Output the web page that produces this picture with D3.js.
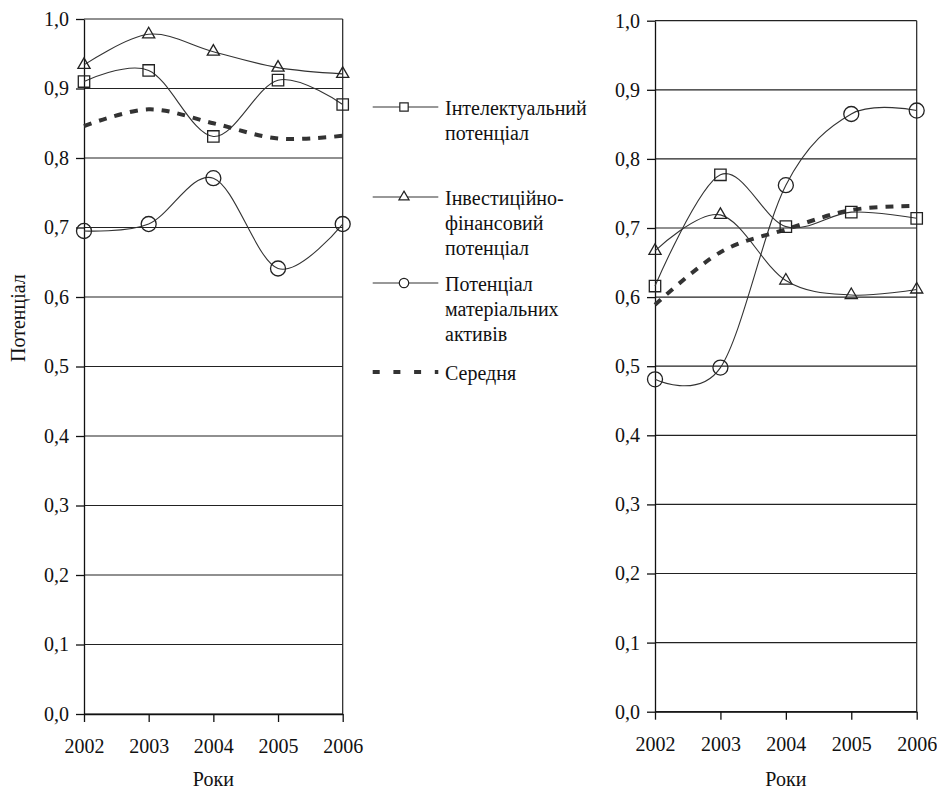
<!DOCTYPE html>
<html>
<head>
<meta charset="utf-8">
<script src="https://cdn.jsdelivr.net/npm/d3@7"></script>
<style>
  body { margin: 0; background: #fff; }
</style>
</head>
<body>
<div id="root"></div>
<script>
// Data
const years = ["2002", "2003", "2004", "2005", "2006"];
const yTicks = [0, 0.1, 0.2, 0.3, 0.4, 0.5, 0.6, 0.7, 0.8, 0.9, 1.0];

const leftIntel = [0.910, 0.926, 0.831, 0.912, 0.877];
const leftInvest = [0.934, 0.978, 0.953, 0.930, 0.921];
const leftMaterial = [0.695, 0.705, 0.771, 0.641, 0.705];
const leftAverage = [0.846, 0.870, 0.850, 0.828, 0.832];

const rightIntel = [0.616, 0.777, 0.702, 0.723, 0.714];
const rightInvest = [0.667, 0.719, 0.624, 0.603, 0.611];
const rightMaterial = [0.481, 0.498, 0.762, 0.865, 0.870];
const rightAverage = [0.589, 0.665, 0.698, 0.726, 0.732];

const legendLabels = [
  ["Інтелектуальний", "потенціал"],
  ["Інвестиційно-", "фінансовий", "потенціал"],
  ["Потенціал", "матеріальних", "активів"],
  ["Середня"]
];
const xTitle = "Роки";
const yTitle = "Потенціал";

const width = 937;
const height = 791;
const fontName = "'Liberation Serif'";

const svg = d3.select("#root")
  .append("svg")
  .attr("width", width)
  .attr("height", height);

const fmt = (d) => d3.format(".1f")(d).replace(".", ",");
const smooth = d3.curveCardinal.tension(0);

const markerSymbols = [d3.symbolSquare, d3.symbolTriangle, d3.symbolCircle];
const markerSizes = [130, 64, 177];

function styleText(sel) {
  return sel.attr("font-family", null)
    .style("font-family", fontName)
    .style("font-size", "20px")
    .attr("fill", "#111");
}

function drawPanel(left, right, top, bottom, series, average) {
  const x = d3.scalePoint().domain(years).range([left, right]);
  const y = d3.scaleLinear().domain([0, 1]).range([bottom, top]);
  const g = svg.append("g");

  // gridlines
  g.selectAll("line.grid")
    .data(yTicks)
    .enter()
    .append("line")
    .attr("class", "grid")
    .attr("x1", left)
    .attr("x2", right)
    .attr("y1", (d) => y(d))
    .attr("y2", (d) => y(d))
    .attr("stroke", "#222")
    .attr("stroke-width", 1.2);

  // right border
  g.append("line")
    .attr("x1", right).attr("x2", right)
    .attr("y1", top).attr("y2", bottom)
    .attr("stroke", "#222")
    .attr("stroke-width", 1.2);

  const yAxis = d3.axisLeft(y)
    .tickValues(yTicks)
    .tickFormat(fmt)
    .tickSize(8)
    .tickSizeOuter(0)
    .tickPadding(7);
  const ya = g.append("g").attr("transform", `translate(${left},0)`).call(yAxis);
  ya.attr("font-family", null).attr("font-size", null);
  styleText(ya.selectAll("text"));
  ya.selectAll("line, path").attr("stroke", "#111").attr("stroke-width", 1.3);

  const xAxis = d3.axisBottom(x).tickSize(8).tickSizeOuter(0).tickPadding(17);
  const xa = g.append("g").attr("transform", `translate(0,${bottom})`).call(xAxis);
  xa.attr("font-family", null).attr("font-size", null);
  styleText(xa.selectAll("text"));
  xa.selectAll("line, path").attr("stroke", "#111").attr("stroke-width", 1.3);

  styleText(g.append("text")
    .attr("x", (left + right) / 2)
    .attr("y", 786)
    .attr("text-anchor", "middle")
    .text(xTitle));

  const line = d3.line()
    .x((d, i) => x(years[i]))
    .y((d) => y(d))
    .curve(smooth);

  // average dashed
  g.append("path")
    .attr("d", line(average))
    .attr("fill", "none")
    .attr("stroke", "#333")
    .attr("stroke-width", 4)
    .attr("stroke-dasharray", "8,8");

  series.forEach((vals, k) => {
    g.append("path")
      .attr("d", line(vals))
      .attr("fill", "none")
      .attr("stroke", "#333")
      .attr("stroke-width", 1.1);

    g.selectAll("path.m" + k)
      .data(vals)
      .enter()
      .append("path")
      .attr("class", "m" + k)
      .attr("transform", (d, i) => `translate(${x(years[i])},${y(d)})`)
      .attr("d", d3.symbol().type(markerSymbols[k]).size(markerSizes[k]))
      .attr("fill", "none")
      .attr("stroke", "#222")
      .attr("stroke-width", 1.3);
  });
}

drawPanel(84, 342.7, 19, 714, [leftIntel, leftInvest, leftMaterial], leftAverage);
drawPanel(655, 916.7, 20.7, 711.7, [rightIntel, rightInvest, rightMaterial], rightAverage);

// y title
styleText(svg.append("text")
  .attr("transform", "translate(25,362) rotate(-90)")
  .attr("text-anchor", "start")
  .text(yTitle));

// Legend
const legendRows = [107, 197, 283, 372];
const legendMarkerSizes = [70, 45, 70];
const legend = svg.append("g");

legendLabels.forEach((lines, k) => {
  const ly = legendRows[k];
  const item = legend.append("g");
  if (k < 3) {
    item.append("line")
      .attr("x1", 372.7).attr("x2", 438.3)
      .attr("y1", ly).attr("y2", ly)
      .attr("stroke", "#333")
      .attr("stroke-width", 1.1);
    item.append("path")
      .attr("transform", `translate(404,${ly})`)
      .attr("d", d3.symbol().type(markerSymbols[k]).size(legendMarkerSizes[k]))
      .attr("fill", "#fff")
      .attr("stroke", "#222")
      .attr("stroke-width", 1.2);
  } else {
    item.append("line")
      .attr("x1", 372.7).attr("x2", 438.3)
      .attr("y1", ly).attr("y2", ly)
      .attr("stroke", "#333")
      .attr("stroke-width", 4)
      .attr("stroke-dasharray", "7,13.7");
  }
  styleText(item.selectAll("text")
    .data(lines)
    .enter()
    .append("text")
    .attr("x", 445)
    .attr("y", (d, i) => ly + 8 + i * 25)
    .text((d) => d));
});
</script>
</body>
</html>
